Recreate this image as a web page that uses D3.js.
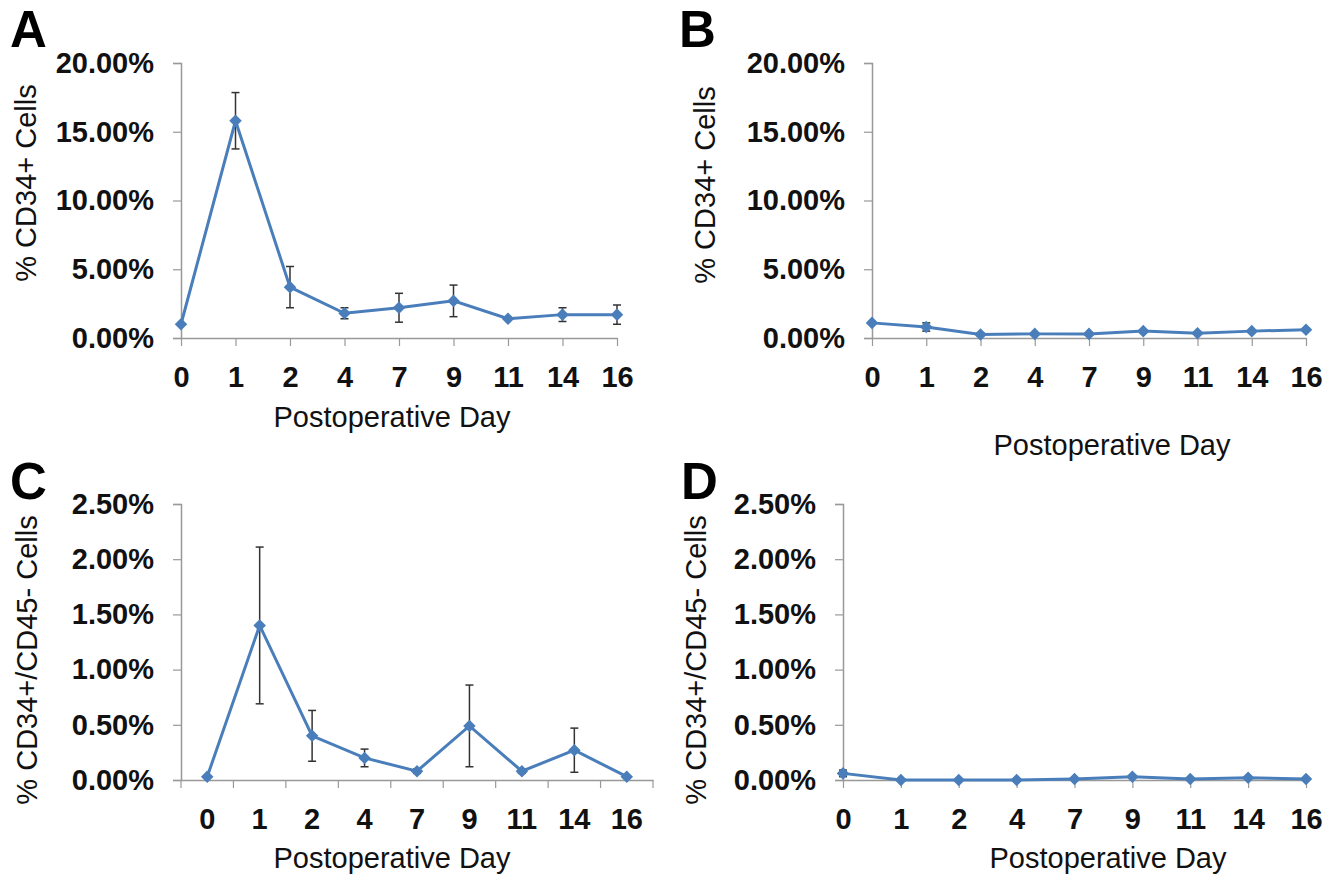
<!DOCTYPE html>
<html>
<head>
<meta charset="utf-8">
<script src="https://cdn.jsdelivr.net/npm/d3@7"></script>
<style>
  body { margin: 0; background: #fff; }
  svg { font-family: "Liberation Sans", Arial, sans-serif; }
</style>
</head>
<body>
<div id="chart"></div>
<script>
// postoperative days (categories)
var days = ["0", "1", "2", "4", "7", "9", "11", "14", "16"];

// panel A: % CD34+ cells
var cd34A = [1.0, 15.8, 3.7, 1.8, 2.2, 2.7, 1.4, 1.7, 1.7];
var cd34AErr = [0, 2.05, 1.5, 0.4, 1.05, 1.15, 0.1, 0.5, 0.7];
// panel B: % CD34+ cells
var cd34B = [1.1, 0.8, 0.25, 0.3, 0.3, 0.5, 0.35, 0.5, 0.6];
var cd34BErr = [0.1, 0.3, 0.1, 0.05, 0.05, 0.1, 0.05, 0.1, 0.1];
// panel C: % CD34+/CD45- cells
var cd45C = [0.03, 1.40, 0.40, 0.20, 0.08, 0.49, 0.08, 0.27, 0.03];
var cd45CErr = [0, 0.71, 0.23, 0.08, 0.02, 0.37, 0.02, 0.20, 0];
// panel D: % CD34+/CD45- cells
var cd45D = [0.06, 0.0, 0.0, 0.0, 0.01, 0.03, 0.01, 0.02, 0.01];
var cd45DErr = [0.03, 0, 0, 0, 0, 0.01, 0, 0, 0];

var ticksTop = [0, 5, 10, 15, 20];
var ticksBottom = [0, 0.5, 1, 1.5, 2, 2.5];

var w = 1341;
var h = 886;
var lineColor = "#4a7ebb";

var svg = d3.select("#chart")
    .append("svg")
    .attr("width", w)
    .attr("height", h);

function panel(p) {
    var g = svg.append("g");

    var x;
    if (p.band) {
        x = d3.scaleBand().domain(days).range([p.x0, p.x1]);
    } else {
        x = d3.scalePoint().domain(days).range([p.x0, p.x1]).padding(0);
    }
    var cx = function (d) {
        return p.band ? x(d) + x.bandwidth() / 2 : x(d);
    };
    var y = d3.scaleLinear().domain([0, p.max]).range([p.y1, p.y0]);

    // y axis
    var yAxis = g.append("g")
        .attr("transform", "translate(" + p.x0 + ",0)")
        .call(d3.axisLeft(y).tickValues(p.ticks).tickSize(8).tickPadding(19)
            .tickFormat(function (d) { return d.toFixed(2) + "%"; }));
    yAxis.select(".domain").attr("stroke", "#999").attr("stroke-width", 1.5);
    yAxis.selectAll(".tick line").attr("stroke", "#999").attr("stroke-width", 1.2);
    yAxis.selectAll("text")
        .attr("font-size", 29).attr("font-weight", "bold").attr("fill", "#111");

    // x axis
    var xAxis = g.append("g")
        .attr("transform", "translate(0," + p.y1 + ")")
        .call(d3.axisBottom(x).tickSize(p.band ? 0 : 8).tickPadding(p.band ? 28 : 20).tickSizeOuter(0));
    xAxis.select(".domain").attr("stroke", "#999").attr("stroke-width", 1.5);
    xAxis.selectAll(".tick line").attr("stroke", "#999").attr("stroke-width", 1.2);
    xAxis.selectAll("text")
        .attr("font-size", 29).attr("font-weight", "bold").attr("fill", "#111");
    if (p.band) {
        // tick marks between categories
        xAxis.selectAll(".sep")
            .data(days.concat(["end"]))
            .enter()
            .append("line")
            .attr("x1", function (d, i) { return p.x0 + i * x.step(); })
            .attr("x2", function (d, i) { return p.x0 + i * x.step(); })
            .attr("y1", 0)
            .attr("y2", 8)
            .attr("stroke", "#999")
            .attr("stroke-width", 1.2);
    }

    // error bars
    var eb = g.selectAll(".err")
        .data(p.values)
        .enter()
        .append("g")
        .attr("stroke", "#333")
        .attr("stroke-width", 1.5);
    eb.append("line")
        .attr("x1", function (d, i) { return cx(days[i]); })
        .attr("x2", function (d, i) { return cx(days[i]); })
        .attr("y1", function (d, i) { return y(d + p.err[i]); })
        .attr("y2", function (d, i) { return y(Math.max(0, d - p.err[i])); });
    eb.append("line")
        .attr("x1", function (d, i) { return cx(days[i]) - 4; })
        .attr("x2", function (d, i) { return cx(days[i]) + 4; })
        .attr("y1", function (d, i) { return y(d + p.err[i]); })
        .attr("y2", function (d, i) { return y(d + p.err[i]); });
    eb.append("line")
        .attr("x1", function (d, i) { return cx(days[i]) - 4; })
        .attr("x2", function (d, i) { return cx(days[i]) + 4; })
        .attr("y1", function (d, i) { return y(Math.max(0, d - p.err[i])); })
        .attr("y2", function (d, i) { return y(Math.max(0, d - p.err[i])); });

    // line
    var line = d3.line()
        .x(function (d, i) { return cx(days[i]); })
        .y(function (d) { return y(d); });
    g.append("path")
        .datum(p.values)
        .attr("d", line)
        .attr("fill", "none")
        .attr("stroke", lineColor)
        .attr("stroke-width", 3);

    // diamond markers
    g.selectAll(".pt")
        .data(p.values)
        .enter()
        .append("path")
        .attr("d", d3.symbol().type(d3.symbolDiamond2).size(100))
        .attr("transform", function (d, i) {
            return "translate(" + cx(days[i]) + "," + y(d) + ")";
        })
        .attr("fill", lineColor);

    // axis titles
    g.append("text")
        .text(p.yTitle)
        .attr("transform", "translate(" + p.yTitleX + "," + p.yTitleY + ") rotate(-90)")
        .attr("text-anchor", "middle")
        .attr("font-size", 29)
        .attr("fill", "#111");
    g.append("text")
        .text("Postoperative Day")
        .attr("x", p.xTitleX)
        .attr("y", p.xTitleY)
        .attr("text-anchor", "middle")
        .attr("font-size", 29)
        .attr("fill", "#111");

    // panel letter
    g.append("text")
        .text(p.letter)
        .attr("x", p.letterX)
        .attr("y", p.letterY)
        .attr("font-size", 51)
        .attr("font-weight", "bold")
        .attr("fill", "#000");
}

panel({ letter: "A", letterX: 10, letterY: 47, values: cd34A, err: cd34AErr, max: 20, ticks: ticksTop,
    x0: 181, x1: 617, y0: 63, y1: 338, band: false,
    yTitle: "% CD34+ Cells", yTitleX: 36, yTitleY: 183, xTitleX: 392, xTitleY: 427 });
panel({ letter: "B", letterX: 679, letterY: 47, values: cd34B, err: cd34BErr, max: 20, ticks: ticksTop,
    x0: 872, x1: 1306, y0: 63, y1: 338, band: false,
    yTitle: "% CD34+ Cells", yTitleX: 715, yTitleY: 185, xTitleX: 1112, xTitleY: 455 });
panel({ letter: "C", letterX: 10, letterY: 499, values: cd45C, err: cd45CErr, max: 2.5, ticks: ticksBottom,
    x0: 181, x1: 653, y0: 504, y1: 780, band: true,
    yTitle: "% CD34+/CD45- Cells", yTitleX: 37, yTitleY: 660, xTitleX: 392, xTitleY: 868 });
panel({ letter: "D", letterX: 681, letterY: 499, values: cd45D, err: cd45DErr, max: 2.5, ticks: ticksBottom,
    x0: 843, x1: 1306, y0: 504, y1: 780, band: false,
    yTitle: "% CD34+/CD45- Cells", yTitleX: 706, yTitleY: 660, xTitleX: 1108, xTitleY: 868 });
</script>
</body>
</html>
